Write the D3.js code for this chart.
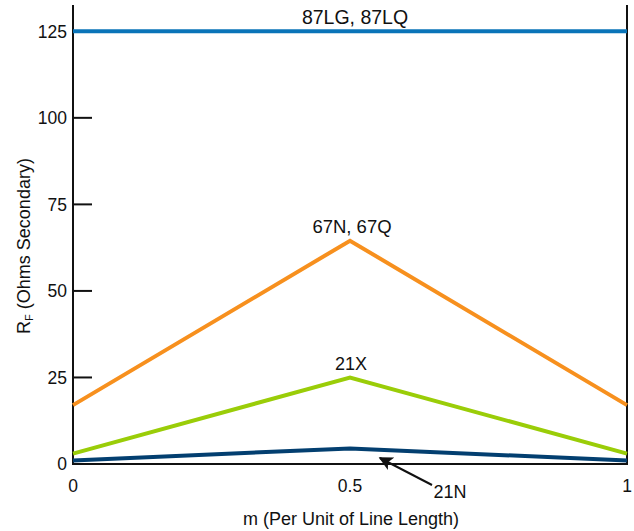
<!DOCTYPE html>
<html><head><meta charset="utf-8">
<script src="https://cdn.jsdelivr.net/npm/d3@7"></script>
<style>
html,body{margin:0;padding:0;background:#fff;}
text{font-family:"Liberation Sans",Arial,sans-serif;fill:#111;}
</style></head>
<body><svg id="c" width="634" height="531"></svg>
<script>
const xValues = [0, 0.5, 1];
const s87 = [125, 125, 125];
const s67 = [17, 64.5, 17];
const s21X = [3, 25, 3];
const s21N = [1, 4.5, 1];
const yTicks = [0, 25, 50, 75, 100, 125];
const xTicks = [0, 0.5, 1];
const xTickLabels = ["0", "0.5", "1"];
const seriesNames = ["87LG, 87LQ", "67N, 67Q", "21X", "21N"];
const seriesColors = ["#0a74b8", "#f7901e", "#9acd08", "#033f70"];

const svg = d3.select("#c");
const L = 73, R = 627, T = 5, B = 464;
const x = d3.scaleLinear().domain([0, 1]).range([L, R]);
const y = d3.scaleLinear().domain([0, 132.6]).range([B, T]);

svg.append("line").attr("x1", L).attr("x2", L).attr("y1", T).attr("y2", B).attr("stroke", "#111").attr("stroke-width", 2);
svg.append("line").attr("x1", R).attr("x2", R).attr("y1", T).attr("y2", B).attr("stroke", "#111").attr("stroke-width", 2);
svg.append("line").attr("x1", L - 1).attr("x2", R + 1).attr("y1", B).attr("y2", B).attr("stroke", "#111").attr("stroke-width", 2);

const yAxis = svg.append("g");
yTicks.forEach(v => {
  if (v > 0 && v < 125) {
    yAxis.append("line").attr("x1", L).attr("x2", L + 19).attr("y1", y(v)).attr("y2", y(v)).attr("stroke", "#111").attr("stroke-width", 2);
  }
  yAxis.append("text").attr("x", L - 6).attr("y", y(v)).attr("dy", "0.36em").attr("text-anchor", "end").attr("font-size", 17.5).text(v);
});
xTicks.forEach((v, i) => {
  svg.append("text").attr("x", x(v)).attr("y", 492).attr("text-anchor", "middle").attr("font-size", 17.5).text(xTickLabels[i]);
});

svg.append("text").attr("x", 351).attr("y", 525).attr("text-anchor", "middle").attr("font-size", 18).text("m (Per Unit of Line Length)");
const yt = svg.append("text").attr("transform", "translate(30,246) rotate(-90)").attr("text-anchor", "middle").attr("font-size", 18);
yt.append("tspan").text("R");
yt.append("tspan").attr("font-size", 11).attr("dy", 3).text("F");
yt.append("tspan").attr("dy", -3).text(" (Ohms Secondary)");

const line = d3.line().x((d, i) => x(xValues[i])).y(d => y(d));
const series = [s87, s67, s21X, s21N];
series.forEach((s, k) => {
  svg.append("path").attr("d", line(s)).attr("fill", "none").attr("stroke", seriesColors[k]).attr("stroke-width", 4).attr("stroke-linejoin", "miter");
});

svg.append("text").attr("x", x(0.5) + 5).attr("y", y(s87[1]) - 7).attr("text-anchor", "middle").attr("font-size", 19.5).text(seriesNames[0]);
svg.append("text").attr("x", x(0.5) + 2).attr("y", y(s67[1]) - 8).attr("text-anchor", "middle").attr("font-size", 18.5).text(seriesNames[1]);
svg.append("text").attr("x", x(0.5) + 1).attr("y", y(s21X[1]) - 7).attr("text-anchor", "middle").attr("font-size", 18).text(seriesNames[2]);
svg.append("text").attr("x", 450).attr("y", 498).attr("text-anchor", "middle").attr("font-size", 18).text(seriesNames[3]);

svg.append("defs").append("marker").attr("id", "ah").attr("viewBox", "0 0 10 10").attr("refX", 9).attr("refY", 5)
  .attr("markerWidth", 8).attr("markerHeight", 7).attr("markerUnits", "strokeWidth").attr("orient", "auto")
  .append("path").attr("d", "M0,0 L10,5 L0,10 L2.5,5 z").attr("fill", "#111");
svg.append("line").attr("x1", 432).attr("y1", 485).attr("x2", x(0.554)).attr("y2", 458).attr("stroke", "#111").attr("stroke-width", 2).attr("marker-end", "url(#ah)");
</script></body></html>
